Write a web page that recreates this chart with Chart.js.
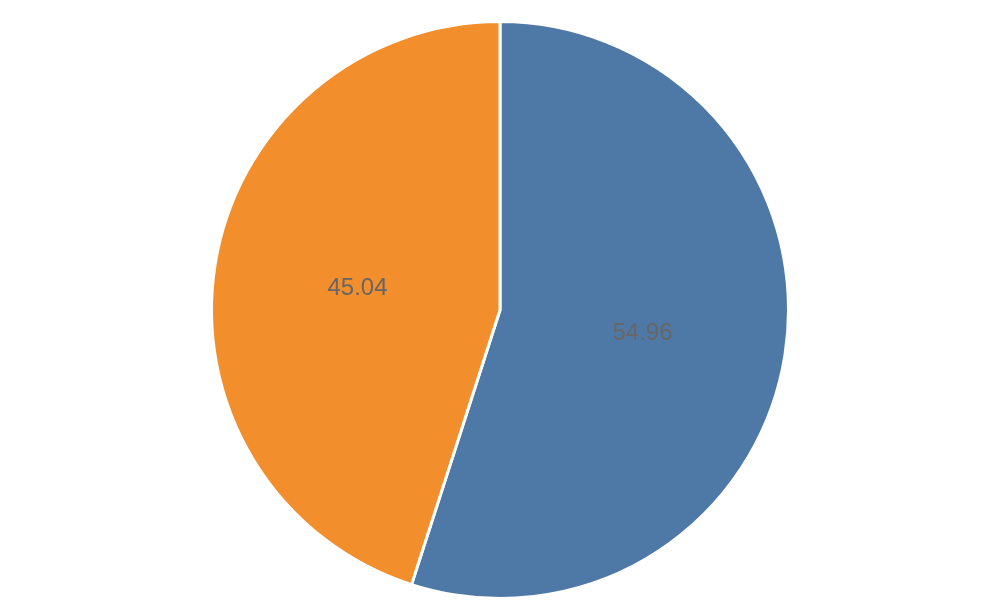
<!DOCTYPE html>
<html lang="en">
<head>
<meta charset="UTF-8">
<title>Pie</title>
<style>
  html, body { margin: 0; padding: 0; background: #fff; }
  #wrap { width: 1000px; height: 600px; }
</style>
</head>
<body>
<div id="wrap"><canvas id="chart" width="1000" height="600"></canvas></div>
<script src="https://cdn.jsdelivr.net/npm/chart.js"></script>
<script>
const categories = ["A", "B"];
const values = [54.96, 45.04];
const colors = ["#4e79a7", "#f28e2b"];

// draw each value at the middle of its slice
const sliceLabels = {
  id: "sliceLabels",
  afterDatasetsDraw(chart) {
    const ctx = chart.ctx;
    const meta = chart.getDatasetMeta(0);
    ctx.save();
    ctx.font = "24px 'Liberation Sans', Arial, sans-serif";
    ctx.fillStyle = "#666666";
    ctx.textAlign = "center";
    ctx.textBaseline = "middle";
    meta.data.forEach((arc, i) => {
      const p = arc.tooltipPosition();
      ctx.fillText(values[i].toFixed(2), p.x, p.y + 1);
    });
    ctx.restore();
  }
};

new Chart(document.getElementById("chart").getContext("2d"), {
  type: "pie",
  data: {
    labels: categories,
    datasets: [{
      data: values,
      backgroundColor: colors,
      borderColor: "#ffffff",
      borderWidth: 3
    }]
  },
  options: {
    responsive: false,
    animation: false,
    layout: { padding: { top: 20, bottom: 0 } },
    plugins: {
      legend: { display: false },
      tooltip: { enabled: false }
    }
  },
  plugins: [sliceLabels]
});
</script>
</body>
</html>
